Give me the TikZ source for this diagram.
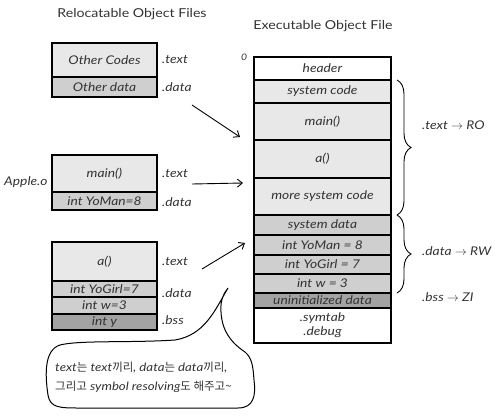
\documentclass[tikz,border=0pt]{standalone}
\usepackage{fontspec}
\setmainfont{Lato}[FakeStretch=1.15]
\newfontfamily\kr{Noto Sans CJK KR}
\usetikzlibrary{arrows.meta,decorations.pathreplacing}
\definecolor{txtc}{gray}{0.91}
\definecolor{datc}{gray}{0.81}
\definecolor{bssc}{gray}{0.64}
\definecolor{ink}{gray}{0.2}
\begin{document}
\begin{tikzpicture}[x=1pt,y=-1pt,
  sec/.style={draw=black, line width=1.1pt, inner sep=0pt, outer sep=0pt, anchor=north west,
    text=ink, font=\itshape\fontsize{12}{13}\selectfont},
  lbl/.style={anchor=west, inner sep=0pt, text=ink, font=\itshape\fontsize{12}{13}\selectfont},
  ttl/.style={inner sep=0pt, text=ink, font=\fontsize{12.3}{14}\selectfont},
  arr/.style={line width=0.9pt, -{Straight Barb[length=5pt,width=8pt]}},
  brc/.style={line width=0.9pt, decorate, decoration={brace, amplitude=14pt}},
  bub/.style={line width=1pt}]
\useasboundingbox (0,0) rectangle (495,415);

% titles
\node[ttl] (t1) at (132,14) {Relocatable Object Files};
\node[ttl] (t2) at (323,26) {Executable Object File};

% box 1
\node[sec, fill=txtc, minimum width=105pt, minimum height=34pt] (oc) at (52,43) {Other Codes};
\node[sec, fill=datc, minimum width=105pt, minimum height=20pt] (od) at (52,77) {Other data};
\node[lbl] (l1) at (162,60) {.text};
\node[lbl] (l2) at (162,87) {.data};

% box 2 (Apple.o)
\node[sec, fill=txtc, minimum width=105pt, minimum height=37pt] (mn) at (52,155) {main()};
\node[sec, fill=datc, minimum width=105pt, minimum height=18pt] (ym) at (52,192) {int YoMan=8};
\node[lbl] (l3) at (162,174) {.text};
\node[lbl] (l4) at (162,202) {.data};
\node[lbl] (ap) at (4,182) {Apple.o};

% box 3
\node[sec, fill=txtc, minimum width=105pt, minimum height=39pt] (aa) at (52,242) {a()};
\node[sec, fill=datc, minimum width=105pt, minimum height=16pt] (yg) at (52,281) {int YoGirl=7};
\node[sec, fill=datc, minimum width=105pt, minimum height=17pt] (iw) at (52,297) {int w=3};
\node[sec, fill=bssc, minimum width=105pt, minimum height=16pt] (iy) at (52,314) {int y};
\node[lbl] (l5) at (162,262) {.text};
\node[lbl] (l6) at (162,293) {.data};
\node[lbl] (l7) at (162,320) {.bss};

% executable
\node[lbl, font=\itshape\fontsize{9}{10}\selectfont] (zero) at (241,57) {0};
\node[sec, fill=white, minimum width=137pt, minimum height=23pt] (hd) at (254,57) {header};
\node[sec, fill=txtc, minimum width=137pt, minimum height=23pt] (sc) at (254,80) {system code};
\node[sec, fill=txtc, minimum width=137pt, minimum height=37pt] (em) at (254,103) {main()};
\node[sec, fill=txtc, minimum width=137pt, minimum height=38pt] (ea) at (254,140) {a()};
\node[sec, fill=txtc, minimum width=137pt, minimum height=37pt] (ms) at (254,178) {more system code};
\node[sec, fill=datc, minimum width=137pt, minimum height=20pt] (sd) at (254,215) {system data};
\node[sec, fill=datc, minimum width=137pt, minimum height=20pt] (eym) at (254,235) {int YoMan = 8};
\node[sec, fill=datc, minimum width=137pt, minimum height=19pt] (eyg) at (254,255) {int YoGirl = 7};
\node[sec, fill=datc, minimum width=137pt, minimum height=19pt] (ew) at (254,274) {int w = 3};
\node[sec, fill=bssc, minimum width=137pt, minimum height=15pt] (ud) at (254,293) {uninitialized data};
\node[sec, fill=white, minimum width=137pt, minimum height=35pt, align=center,
  font=\itshape\fontsize{12}{14}\selectfont] (st) at (254,308) {.symtab\\.debug};

% braces
\draw[brc] ([xshift=6pt]sc.north east) -- ([xshift=6pt]ms.south east);
\draw[brc] ([xshift=6pt]sd.north east) -- ([xshift=6pt]ew.south east);
\node[lbl] (ro) at (422,125) {.text $\rightarrow$ RO};
\node[lbl] (rw) at (422,251) {.data $\rightarrow$ RW};
\node[lbl] (zi) at (422,297) {.bss $\rightarrow$ ZI};

% arrows
\coordinate (s1) at (192,105); \coordinate (e1) at (240,137);
\coordinate (s2) at (192,184); \coordinate (e2) at (243,183);
\coordinate (s3) at (202,269); \coordinate (e3) at (245,243);
\draw[arr] (s1) -- (e1);
\draw[arr] (s2) -- (e2);
\draw[arr] (s3) -- (e3);

% speech bubble
\draw[bub] (228,288) .. controls (215,310) and (205,335) .. (175,340)
  .. controls (130,343) and (80,340) .. (60,345)
  .. controls (44,350) and (45,375) .. (48,395)
  .. controls (50,408) and (60,408) .. (80,408)
  -- (238,408)
  .. controls (254,408) and (256,395) .. (254,380)
  .. controls (253,366) and (252,358) .. (245,352)
  .. controls (230,342) and (222,330) .. (221,312)
  .. controls (220,300) and (224,293) .. (228,288);
\node[lbl, font=\itshape\fontsize{11.5}{13}\selectfont] (b1) at (55,368)
  {text{\kr 는} text{\kr 끼리}, data{\kr 는} data{\kr 끼리},};
\node[lbl, font=\itshape\fontsize{11.5}{13}\selectfont] (b2) at (55,387)
  {{\kr 그리고} symbol resolving{\kr 도 해주고\string~}};
\end{tikzpicture}
\end{document}
